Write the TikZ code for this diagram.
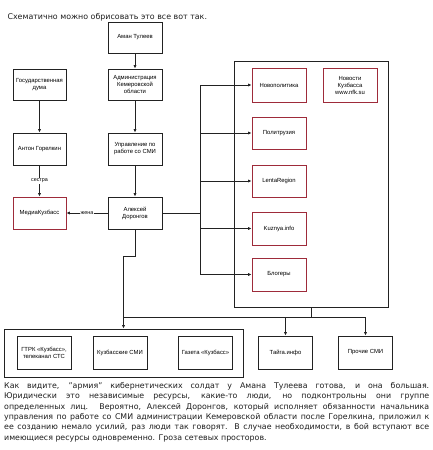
\documentclass[tikz,border=0pt]{standalone}
\usepackage{fontspec}
\setmainfont{DejaVu Sans}
\newfontfamily\boxfont{Liberation Sans}
\usepackage{xcolor}
\usepackage{tikz}
\usetikzlibrary{arrows.meta, calc}
\definecolor{sline}{HTML}{222222}
\definecolor{sred}{HTML}{9E2B3A}
\definecolor{stext}{HTML}{1E1E1E}

\begin{document}
\begin{tikzpicture}[x=1pt, y=-1pt,
  box/.style={draw=sline, line width=0.95pt, fill=white, inner sep=1pt, align=center,
    font=\boxfont\fontsize{5.9}{7}\selectfont, text=black},
  redbox/.style={box, draw=sred},
  frame/.style={draw=sline, line width=0.95pt, inner sep=0pt},
  link/.style={draw=sline, line width=0.95pt},
  arr/.style={link, -{Latex[length=3.4pt, width=3.2pt]}},
  tag/.style={fill=white, inner sep=1pt, font=\boxfont\fontsize{5.4}{6}\selectfont}]

  \useasboundingbox[fill=white] (0,0) rectangle (433,450);

  %% Title
  \node[anchor=west, font=\fontsize{7.9}{9}\selectfont, text=stext] (title) at (4,17)
    {Схематично можно обрисовать это все вот так.};

  %% Containers
  \node[frame, minimum width=154pt, minimum height=246pt] (bigbox) at (311,184) {};
  \node[frame, minimum width=239pt, minimum height=48pt] (smibox) at (123.5,353) {};

  %% Left and middle columns
  \node[box, minimum width=54pt, minimum height=31pt] (tuleev) at (135,37.5) {Аман Тулеев};
  \node[box, minimum width=54pt, minimum height=31pt] (admin) at (135,84.5)
    {Администрация\\Кемеровской\\области};
  \node[box, minimum width=54pt, minimum height=32pt] (upr) at (135,149)
    {Управление по\\работе со СМИ};
  \node[box, minimum width=54pt, minimum height=32pt] (doronkov) at (135,213)
    {Алексей\\Доронгов};
  \node[box, minimum width=53pt, minimum height=31pt] (duma) at (39.5,84.5)
    {Государственная\\дума};
  \node[box, minimum width=53pt, minimum height=32pt] (gorelkin) at (39.5,149) {Антон Горелкин};
  \node[redbox, minimum width=53pt, minimum height=32pt] (media) at (39.5,213) {МедиаКузбасс};

  %% Sites inside the big box
  \node[redbox, minimum width=54pt, minimum height=34pt] (novopol) at (279,85) {Новополитика};
  \node[redbox, minimum width=54pt, minimum height=34pt] (nfk) at (350,85)
    {Новости\\Кузбасса\\www.nfk.su};
  \node[redbox, minimum width=54pt, minimum height=32pt] (polit) at (279,133) {Политрузия};
  \node[redbox, minimum width=54pt, minimum height=32pt] (lenta) at (279,181) {LentaRegion};
  \node[redbox, minimum width=54pt, minimum height=33pt] (kuznya) at (279,228.5) {Kuznya.info};
  \node[redbox, minimum width=54pt, minimum height=33pt] (blog) at (279,274.5) {Блогеры};

  %% Bottom row
  \node[box, minimum width=54pt, minimum height=33pt] (gtrk) at (44,352.5)
    {ГТРК «Кузбасс»,\\телеканал СТС};
  \node[box, minimum width=54pt, minimum height=33pt] (kuzsmi) at (120,352.5) {Кузбасские СМИ};
  \node[box, minimum width=54pt, minimum height=33pt] (gazeta) at (205.5,352.5) {Газета «Кузбасс»};
  \node[box, minimum width=54pt, minimum height=33pt] (taiga) at (285.5,352.5) {Тайга.инфо};
  \node[box, minimum width=54pt, minimum height=33pt] (prochie) at (365.5,352.5) {Прочие СМИ};

  %% Vertical chains
  \draw[arr] (tuleev) -- (admin);
  \draw[arr] (admin) -- (upr);
  \draw[arr] (upr) -- (doronkov);
  \draw[arr] (duma) -- (gorelkin);
  \draw[arr] (gorelkin) -- node[tag] {сестра} (media);
  \draw[arr] (doronkov) -- node[tag] {жена} (media);

  %% Bus to the sites
  \coordinate (bustop) at (200,85);
  \coordinate (busbot) at (200,274.5);
  \draw[link] (bustop) -- (busbot);
  \draw[link] (doronkov.east) -- (doronkov.east -| bustop);
  \foreach \site in {novopol, polit, lenta, kuznya, blog}{
    \draw[arr] (\site.west -| bustop) -- (\site.west);
  }

  %% Lines to the bottom row
  \draw[arr] (doronkov.south) -- ++(0,27) -| (smibox.north);
  \path (bigbox.south) ++(0,10) coordinate (hub);
  \draw[link] (bigbox.south) -- (hub);
  \draw[link] (smibox.north |- hub) -- (prochie.north |- hub);
  \draw[arr] (taiga.north |- hub) -- (taiga.north);
  \draw[arr] (prochie.north |- hub) -- (prochie.north);

  %% Text below
  \node[anchor=north west, text width=425pt, align=justify, inner sep=0pt, text=stext,
    font=\fontsize{7.85}{10.4}\selectfont] (story) at (4,382)
    {Как видите, "армия" кибернетических солдат у Амана Тулеева готова, и она большая.\linebreak
     Юридически это независимые ресурсы, какие-то люди, но подконтрольны они группе\linebreak
     определенных лиц. Вероятно, Алексей Доронгов, который исполняет обязанности начальника\linebreak
     управления по работе со СМИ администрации Кемеровской области после Горелкина, приложил к\linebreak
     ее созданию немало усилий, раз люди так говорят. В случае необходимости, в бой вступают все\linebreak
     имеющиеся ресурсы одновременно. Гроза сетевых просторов.};

\end{tikzpicture}
\end{document}
